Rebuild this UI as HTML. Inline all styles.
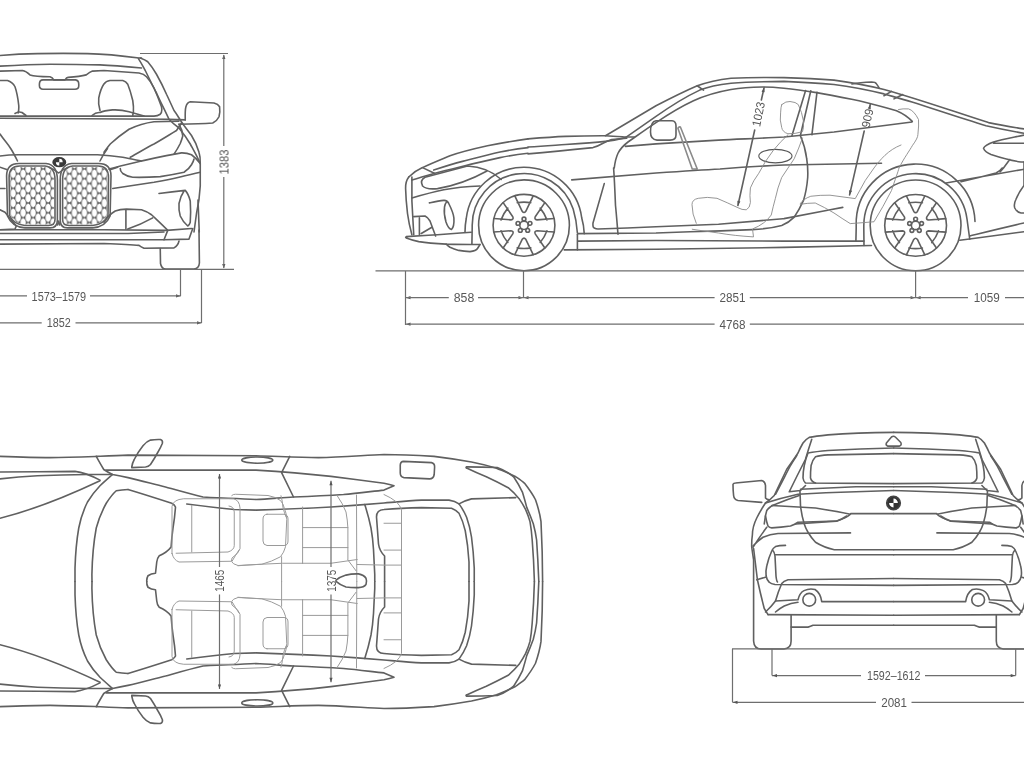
<!DOCTYPE html>
<html><head><meta charset="utf-8"><style>
html,body{margin:0;padding:0;background:#fff;}
svg{display:block;}
.wrap{filter:blur(0.6px);width:1024px;height:768px;}
.l{fill:none;stroke:#606060;stroke-width:1.6;stroke-linejoin:round;stroke-linecap:round;}
.d{fill:none;stroke:#6e6e6e;stroke-width:1.2;}
.t{font-family:"Liberation Sans",sans-serif;font-size:12.5px;fill:#555;opacity:0.99;}
.ar{fill:#555;}
</style></head><body><div class="wrap">
<svg width="1024" height="768" viewBox="0 0 1024 768">
<defs>
<g id="wh">
<circle r="45.4" class="l"/>
<circle r="30.9" class="l"/>
<circle r="4.2" class="l"/>
<g class="l">
<circle cx="0" cy="-6.3" r="1.9"/><circle cx="6" cy="-1.9" r="1.9"/><circle cx="3.7" cy="5.1" r="1.9"/><circle cx="-3.7" cy="5.1" r="1.9"/><circle cx="-6" cy="-1.9" r="1.9"/>
</g>
<g id="gap" class="l"><path d="M-9.2 -29.4 L-1.8 -14 Q0 -11.6 1.8 -14 L9.2 -29.4 M-6.8 -22.6 Q0 -23.8 6.8 -22.6"/></g>
<use href="#gap" transform="rotate(60)"/><use href="#gap" transform="rotate(120)"/><use href="#gap" transform="rotate(180)"/><use href="#gap" transform="rotate(240)"/><use href="#gap" transform="rotate(300)"/>
</g>
</defs>
<!-- SIDE -->
<g class="l">
<use href="#wh" x="524" y="225.3"/>
<use href="#wh" x="915.6" y="225.4"/>
<path d="M528 138.9 C545 137.5 555 136.8 565.5 136.4 C580 135.9 593 135.7 605.5 135.75 C613 136 620 136.6 625.5 137 L634.25 137"/>
<path d="M605.5 135.75 L656 105.75 C670 98.5 684 91.5 697.25 85.75 C709 81.6 720 79.6 731 78.25 C748 77.4 766 77.3 784 77.6 C801 78.2 818 79 834 80.1 C852 82.5 868 85.5 884 89.5 C920 99.5 955 112 988.5 122.6 C1000 125 1012 127 1024 128.9"/>
<path d="M528 147 C545 146 555 145.2 565.5 144.5 C580 143.5 593 142.6 605.5 141.4 C614 140.5 620 139 625.5 137.6 L656 116.4 C670 106.5 684 97.5 699.75 90.1 C710 86 720 84.5 731 83.25 C748 82 766 81.6 784 81.4 C801 82.3 818 83.3 834 84.5 C852 86.8 868 90 884 93.9 C893 96.5 902 99 912 102 C937 110 962 118.5 986 125.75 C999 128.7 1011 131 1024 133.25"/>
<path d="M528 153.9 C550 152 572 149.8 593 147.6 C597 146.5 600 145 603 143.25 C606 141.6 609 140.4 611.75 139.5 L626.75 138.25"/>
<path d="M697.25 85.75 L703.5 90.1 M884 95.75 L891.5 91.4 M894 98.9 L902.75 94.5"/>
<path d="M614.25 168 C615 162 616 157.5 618 153.25 C620.5 148.5 624 145 628 142 C638 135 647 128.5 656 122.6 C668 114.5 680 107 693.5 100.75 C706 95 718 91.8 731 89.5 C741 88 751 87.3 762.25 87 C770 86.9 777 87.5 784 88.25 C795 89.5 805 90.9 816.5 92.6 C831 95.2 845 98 859 100.75 C872 104 884 107 896.5 110.75 C903 113.5 908 117 912.25 121.4 C911 122.5 911.5 122 912 122 C886 125.5 860 128.8 834 132 C817 133.7 800 135.3 784 137 C762 138.3 740 139 718.5 140.1 C697 141.3 676 142.6 656 143.9 L625.5 146.4"/>
<path d="M656 120.75 L672 120.75 Q676 121 676 126 L676 135 Q676 140.1 670 140.1 L657 140.1 Q650.5 139.5 650.5 132 Q650.5 121.5 656 120.75 Z"/>
<path style="stroke:#8a8a8a" d="M677.9 128.25 L692.25 169 L697.25 169 L680.4 127 Q679 126.3 677.9 128.25"/>
<path d="M852 84 Q860 82.5 871.5 82 Q875.5 82 876.5 83.9 L879 87.6"/>
<path d="M805.6 90.5 L792 135.5 M810.8 90.7 L800.4 135.5 M817 92.2 L811.9 134.8"/>
<path d="M800.4 135.8 C803.5 143 805.8 151 806.7 158.75 C807.7 165 808 171 807.7 177.5 C807 186 805.5 194 803.5 200.4 C800.5 207 797.5 212.5 794.2 217.1 C790.5 221 786.5 223.5 781.7 225.4 C772 228 762 229.2 752.5 229.6 C732 230.5 712 231.2 690 231.7 L656 233 L578 233.6"/>
<path d="M571.75 179.9 C600 177.5 628 175.2 656 173 C678 171.5 700 170 720 169 C742 167.3 763 166 784 165 C816 164.2 848 163.6 881.5 163.25"/>
<path d="M604.25 183.6 L593 223 Q592.6 227.5 594.25 228 Q596 229 598 229 C617 228.4 637 227.5 656 226.75 C677 225.9 698 225.1 718.5 224.25 C740 222.5 762 220.5 784 218.6 C803 215 823 211 842.75 207.4"/>
<path d="M613.6 168 C614.5 180 615 193 615.5 205.5 C616.5 215 617.2 225 618 234.25"/>
<path d="M578 241.1 L656 240.5 L784 241.1 L864 241.1 M564.25 249.9 L656 249.25 L784 247.4 L871.5 245.5"/>
<path d="M577.4 234.25 L577.4 249.9"/>
<path d="M855.9 241.1 L856.2 228 L856.2 225.4 A59.4 59.4 0 0 1 975 221.5"/>
<path d="M864 245.5 L863.8 228 L863.8 225.4 A51.8 51.8 0 0 1 967 219 L969.75 239.25"/>
<path d="M969.75 236 C988 231.5 1006 227 1024 223 M959.75 240.25 C981 237.5 1002 234.5 1024 231.75"/>
<path d="M946 183 C970 179 997 174 1024 169.25 M961 181.75 C973 179 985 176 996 173 Q1000.5 171 1002.25 168"/>
<path d="M1024 185.5 Q1019 192 1016 199.25 Q1013.5 204 1014.75 208 Q1017 212.5 1021 213 L1024 213"/>
<path d="M1024 135.1 C1013 137.5 1002 139.5 993.5 142 Q985 145 983.5 148.25 Q985 152 991 154.5 C1000 157.5 1010 160.5 1021 162 L1024 162 M993.5 143.25 L1024 143.25 M1009.75 159.5 L1003.5 168 L1000 172"/>
<path d="M1024 162 L1024 185"/>
</g>
<g class="l" style="stroke:#8a8a8a;stroke-width:0.9">
<ellipse cx="775.4" cy="156.1" rx="16.6" ry="6.75" style="stroke:#555;stroke-width:1.1"/>
<path d="M781.7 104.6 Q786 101 790 101.5 Q796 102 798.3 104.6 Q802 112 803.5 121.25 Q804 128 802.5 131.7 Q795 134 787.9 133.75 Q782.5 132 781.7 127.5 Q779.5 120 780.6 112.9 Q780.8 107 781.7 104.6"/>
<path d="M787.9 134.8 Q780 142 773.3 150.4 Q765 161 758.75 173.3 Q753 181 750.4 187.9 Q749.5 196 750.4 202.5 Q750 208 746.25 209.8 Q742 210 737.9 207.7 Q727 202.5 717 198.3 Q707 196.5 698.3 198.3 Q692 199.5 692 204.6 Q692 214 696.25 223.3"/>
<path d="M802.5 137.9 Q799 148 794.2 158.75 Q788 168 781.7 177.5 Q777.5 188 775.4 198.3 Q773 207 771.25 215 Q765 224 752.5 229 L753.5 236.9 C740 236 730 235 718.5 233 C708 231.5 700 230.5 692.25 229.25"/>
<path d="M800.4 203.5 Q803 199 810.8 196.25 Q820 195 830 195.2 L855.25 198.6 Q860 190 865.25 180.5 L874 168 C880 160 888 150 901 145 M800.25 204.25 Q808 203 815.25 203 Q824 207 834 213 Q842 218.5 850.25 223.6 C858 223 866 222.5 874 221.75 Q883 207 891.5 190.5 C895 180 898 172 899 168 C904 158 910 150 912.25 145.75 Q918 138 917.9 134.5 Q919 125 918.5 119.5 Q914 110.5 908.5 108.9 Q903 108.5 898.5 109.5"/>
</g>
<g class="l">
<path d="M764.1 87.6 L761.35 100 M754.7 130 L737.9 205.5 M870.25 104.5 L869.7 107 M864.2 131 L849.6 194.9"/>
</g>
<g class="t" text-anchor="middle" style="font-size:12px">
<text transform="translate(762.5 115) rotate(-78)" textLength="25" lengthAdjust="spacingAndGlyphs">1023</text>
<text transform="translate(871.5 119) rotate(-78)" textLength="19" lengthAdjust="spacingAndGlyphs">909</text>
</g>
<g class="l">

<path d="M408.75 177 C413 173 417 170 422.5 167.6 C432 163 441 159.5 450 155.75 C462 151.5 475 148.5 487.5 145.75 C501 143 514 140.8 528 138.9"/>
<path d="M433.75 170.1 C443 167 452 164 462.5 161.4 C475 158.2 487 155 500 152 C509 150.2 518 148.8 528 147.6"/>
<path d="M422.5 167.6 L434.4 173.25"/>
<path d="M411.9 180.1 C419 177.8 427 175.5 435 173.25 C445 170.6 455 168.2 465 165.75 C476 163 488 160.3 500 157.6 C509 155.8 518 154.4 528 153.25"/>
<path d="M501.25 179.5 Q487.5 167 467.5 166 L425 177.3 Q419.5 180.5 422.6 186 Q426.25 189.8 437.5 188.6 Q462.5 184.5 487.5 170.75"/>
<path d="M408.75 177 C406.5 180 405.4 184 405.6 188.5 C405.8 197 406.5 205 407.5 213.5 C408.5 221 410 228 411.9 234.75"/>
<path d="M411.9 177 L411.9 201 L413.75 234.75"/>
<path d="M411.9 197.9 C422 195 433 192 443.75 189.75 C456 187.5 468 186.5 480 186"/>
<path d="M429.4 202.9 C434 202 439 201 443.75 200.4 C446 200.2 447.5 201.2 448.5 203 C451 208 453.5 213 453.9 218 C454.2 223 453.5 227.5 451.5 229.5 C449.5 229 447.5 226.5 446 222 C444.5 217 444 211 444.5 207 C445 204.5 445.5 203 446.5 202"/>
<path d="M413.75 216.6 L425 216 Q428 217.5 430 221 L435.6 236 M419.4 217.9 L419.4 234.75 M421.25 233.5 L431.9 227.25"/>
<path d="M406.25 236.6 Q405 237.3 406.25 237.9 M406.25 236.6 C416 236 427 235.4 437.5 234.75 C449 233.9 460 233 471.25 232.25 M406.25 237.9 C410 239.3 414 240.6 418.75 241.6 C428 243 437 243.6 446.25 244.1 C457 244.4 468 244.5 480 244.5"/>
<path d="M446.25 244.1 Q448 246 450 247.25 Q454 249 458.75 250.4 Q464 251.5 470 251.6 Q476 251 477.5 248.5 L480 244.5"/>
<path d="M465 232.25 C465 227 465.4 223 466.25 218.5 A58.2 58.2 0 0 1 581.75 218 Q583.8 225 584.25 233.6"/>
<path d="M471.9 244.1 L472.2 228 L472.2 225.3 A51.8 51.8 0 0 1 573.17 209 Q576.5 220 577.4 233"/>
</g>
<!-- FRONT -->
<defs>
<pattern id="mesh" patternUnits="userSpaceOnUse" x="13.2" y="173.75" width="10" height="9.75">
<rect x="0" y="0" width="10" height="9.75" fill="#505050"/>
<g fill="#fff" stroke="none">
<path id="hx" d="M0 -4.65 C3.7 -2.6 3.7 2.6 0 4.65 C-3.7 2.6 -3.7 -2.6 0 -4.65 Z"/>
<use href="#hx" x="10"/><use href="#hx" y="9.75"/><use href="#hx" x="10" y="9.75"/><use href="#hx" x="5" y="4.875"/>
</g>
</pattern>
<clipPath id="kclip"><path d="M10 178 Q10 166.9 20 166.9 L45 166.9 Q54 168 54 180 L54 219 Q54 224.5 48 224.5 L25 224.5 Q14 223.5 10.5 215 Z"/></clipPath>
<g id="kid">
<rect x="0" y="150" width="60" height="80" fill="url(#mesh)" clip-path="url(#kclip)" stroke="none"/>
<path class="l" d="M9.1 177.5 Q9.1 166 19.5 166 L45 166 Q55 167 55 180 L55 219.5 Q55 225.5 48.5 225.5 L25 225.5 Q13.5 224.5 9.6 215.5 Z"/>
<path class="l" d="M6.6 176 Q6.6 163.5 19 163.5 L46 163.5 Q52 164 55 169 Q57.4 173 57.4 180 L57.4 220 Q57.4 227.9 50 227.9 L25 227.9 Q12 227 7.5 216 Z"/>
</g>
</defs>
<use href="#kid"/>
<use href="#kid" transform="translate(117.6 0) scale(-1 1)"/>
<g class="l">
<path d="M49.4 167.6 Q55 170 58.7 173 Q62 170 68 167.6 M57.6 225 L58.7 221 L59.8 225"/>
<ellipse cx="59.3" cy="162.2" rx="6.2" ry="4.3" style="fill:#3a3a3a;stroke:#3a3a3a"/>
<path d="M59.3 158.8 A3.4 3.4 0 0 1 62.7 162.2 L59.3 162.2 Z M59.3 165.6 A3.4 3.4 0 0 1 55.9 162.2 L59.3 162.2 Z" style="fill:#fff;stroke:none"/>
<path d="M0 55.5 C12 54.5 25 53.8 37.5 53.6 C55 53.3 72 53.3 87.5 53.6 C104 54 120 55.5 139 58 L141.5 58"/>
<path d="M0 66.1 C17 65.2 33 64.5 50 64.25 C67 64.3 84 64.5 100 64.9 C110 65.3 122 66.2 141.5 68"/>
<path d="M0 71.1 L22.5 70.5 Q26 71 30 74.9 Q35 76.5 50 76.75 Q52.5 77.5 53.75 79.9 L65 79.9 Q66.5 77.6 68.1 77.4 Q80 76.5 86.25 74.9 Q90 72 92.5 71.1 L104 70.5 L139 73 Q144 74 146.5 76.75 Q150.5 81 154 88 Q158 97 161.5 106.75 Q162.5 112 160.25 114.25 Q157.5 116.1 154 116.1 L0 116.1"/>
<path d="M0 118.2 L169 119.25 L185.25 119.9"/>
<path d="M43 79.9 L75.5 79.9 Q78.75 80.5 78.75 84 L78.75 86 Q78.75 89.25 75 89.25 L43 89.25 Q39.4 89 39.4 85.5 L39.4 84 Q39.5 80 43 79.9 Z"/>
<path d="M0 80.5 L7.5 80.5 Q12.5 82 15 86.75 Q17.5 94 18.75 105.5 Q19 110 18.1 113"/>
<path d="M15 113.5 Q18.5 111 22 112.5 L26 115.5"/>
<path d="M100 110.5 Q98 104 98.75 98 Q100.5 89 103.75 84.25 Q106 81 110 80.5 L122.75 80.5 Q126 81.5 127.75 84.25 Q130.5 91 132.75 100.5 Q133.8 107 133.4 111.75 L132.75 115.5"/>
<path d="M92 115.5 Q96 112 100 112.5 Q104 110.5 112.5 109.9 Q121 109.5 129 111.75 L144 116.1"/>
<path d="M140.25 58 C143 59 145.5 60 147.75 61.75 C151 65.5 154 70 156.5 74.25 C160 80.5 163.5 87.5 166.5 94.25 C169 99.5 171.5 105 174 110.5 C176 113 177.5 115.5 179 118 C180.5 120.5 182.2 123 184 125.5 C186.5 128.8 189 132 191.5 135.5 C194 139.5 197 145 199 152.25 Q200.5 157 200.25 163.5 L200.25 186 Q199.5 200 196.5 213.5 L194 232"/>
<path d="M138.4 58.6 C141 62.5 143 66.5 145.25 70.5 C149 78 152.5 85.5 156.5 93 C160.5 102 165 110.5 169 119.25 C172 122.5 175.5 125.5 179 128 C183 133 187 138.5 190.25 144 C193.5 150 197 156 200.25 163.5"/>
<path d="M185.25 119.9 Q185 110 185.9 106.75 Q187 102.5 190.25 101.75 L214 103 Q218 104 219.6 106.75 Q220.3 112 219 116.75 Q217 121 212.75 123 Q200 124 179 124.25"/>
<path d="M0 134 C2 137 4 139.5 6 142 C8 144.5 9.5 146.5 11 149 C13.5 153 15.5 157 17.5 161"/>
<path d="M104 152.25 Q107 148 110.25 144 Q119 136 129 129.25 Q141 123.5 154 121.75 L179 121.1"/>
<path d="M100 161 C102 157 104.5 152.5 107.5 148.5"/>
<path d="M130.25 157.25 C139 152.5 146 148 154 144 C162 139.5 169 135 176.5 130.5 L181.5 123"/>
<path d="M174 154.1 C176.5 150.5 178.5 147 180.25 143.5 Q182 139 182.75 136 Q182.5 130 179 124.25"/>
<path d="M0 156 C6 155.2 12 154.8 18.75 154.75 L97.5 154.75 C108 155.5 116 156.4 122.75 157.25 C129 158.5 135 159.8 141.5 161"/>
<path d="M109 169.1 C120 166 131 163.5 141.5 161 C155 158 168 155 181.5 152.9 Q187 152.8 191.5 154.75 Q196 158 200.25 163.5"/>
<path d="M120.25 168.5 Q120 171 122.75 173.5 Q127 176.5 132.75 177.25 C142 177.5 151 177.2 160.25 176.6 C168 175.5 176 174 184 172.25 Q189 169 191.5 164.75 Q193.5 161.5 194 159"/>
<path d="M0 167.25 L7.5 169.75 M117.6 167.25 L110.1 169.75"/>
<path d="M0 188.5 L5 188.5 M112.75 188.5 C126 186.5 140 184.5 154 182.25 C162 180.8 170 179.3 179 177.25 C186 175.5 193 173.8 200.25 172.25"/>
<path d="M159 193.5 C168 192.3 176.5 191.3 185.25 190.4 Q188.5 194 190.25 201 Q191 212 190.25 222.25 Q189.5 225 187.75 226 Q183 222 180.25 216 Q178.5 210 179 203.5 Q180.5 196 184 191"/>
<path d="M104 222.25 Q108.5 215 115.25 211 Q120 209.3 126.5 209.1 L141.5 209.75 Q147 211.5 151.5 214.75 C157 220 162.5 225 167.75 230.4 L164 239.75"/>
<path d="M125.9 209.75 L125.9 229.1 M127.75 229.1 Q141 224.5 152.75 217.9"/>
<path d="M0 209.75 L5 212.25 L16.25 226 L15 229.1 L0 229.75"/>
<path d="M0 229.75 L104 229.75 L166.5 230.4 L191.5 228.5"/>
<path d="M0 233.5 L128 233.5 L164 232"/>
<path d="M0 239.75 L164 239.75 L189 239.1 L192.75 228.5"/>
<path d="M0 244.1 L104 243.5 Q130 244.5 139 245.4 Q141 247 144 248.25 L174 247.9 Q178 245.5 179 241"/>
<path d="M160.25 248.5 L160.5 263.5 Q161.5 269.1 166 269.1 L194 269.1 Q199 268.5 199.4 263 L199 230"/>
<path d="M199.25 232 L198 200"/>
</g>
<!-- TOP VIEW -->
<defs>
<g id="tophalf">
<g class="l">
<path d="M0 456.4 C17 457 34 457.6 50 457.6 C66 457.4 81 456.9 96.25 456.4 C107 455.9 117 455.4 128 455.1 L256 455.75 C277 456.3 298 457.6 318.5 457.6 C340 457.2 362 455.5 384 454.5 C400 454.5 418 455.4 434 456.4 C447 458 459 459.8 471.5 462 C480 463.7 488 465.6 496.5 468.25 C503 471 510 473.5 515.8 476.8 C519 479 522 481 524.6 483.3 C529 489 532.5 494 535.5 499.75 C538 507 540 514 541 521.6 C542 541 542.6 560 542.6 581.5"/>
<path d="M0 472 C25 471.8 50 471.6 75 471.4 C84 472.5 92 476 100 480.1"/>
<path d="M106.25 470.1 L256 470.1 C281 471.5 306 473.5 331 476.4 C349 478.6 366 481 384 483.25 Q390 484.5 394 485.75 Q390 487.5 384 490.1 C371 491.5 357 493.3 343.5 494.5 C327 495.5 310 496.3 293.5 497 C281 497.7 268 499 256 499.5 C247 499 237 498.6 228 498.25 C220 498 211 497.5 203 497 C190 494 178 490.5 165.5 487 C153 484 141 480.5 128 477.6 C123 476.5 118 475.5 112.5 474.5 C109 472.8 106 471 103.75 469.5 C101 465 98.5 460.5 96.25 456.4"/>
<path d="M0 478.9 C12 477.6 25 476.5 37.5 475.75 C54 475 71 474.6 87.5 474.5 L112.5 474.5"/>
<path d="M0 518.25 C25 512 55 502 100 480.75"/>
<path d="M112.5 474.5 C108 478.5 104 482 100 485.75 C95 491 91 496 87.5 502 C83.5 510 80.5 519 78.75 528 C76.5 541 75.4 555 75 568.25 L75 581.5"/>
<path d="M128 489.5 C124 489.6 120 490 116.25 490.75 C112 494.5 109 499 106.25 503.25 C102 511 98.5 519.5 96.25 528 C93.5 543 92.2 558 91.9 574.5 L92 581.5"/>
<path d="M128 489.5 C143 494 157 498.5 171.75 503.25 Q174.5 504.8 175.5 507 Q174.8 517 173 528 C172 535 171.5 541 171.1 547 Q167 552.5 159.25 555.75 Q157 558.5 156.75 562 L155.5 573.25 Q151 573.5 148 575.75 Q146.5 578.5 146.75 581.5"/>
<path d="M186.75 504 C203 506 218 507.8 234.25 509.5 L256 510.1 C281 509.3 306 508.3 331 507 C349 505.8 366 504.5 384 503 C396 502 409 500.8 421.5 500.1 L449 500.1 Q455 501 459 503.9 Q463.5 510 466.6 517.25 Q470 527 471.5 537 Q473.5 552 474.25 568 L474.25 581.5"/>
<path d="M384.6 581.5 L384.6 556 Q379.5 551 378.5 544 L376.5 517 Q376.5 509.8 384 509.5 C396 508.5 409 507.9 421.5 507.6 L451.5 508.25 Q456 510 459 513.25 Q463 521 465.25 530.75 Q468 545 469 562 L469 581.5"/>
<path d="M364.75 504.5 Q368.5 516 371 528 Q372.8 538 373.5 549.5 L374.75 574.5 L374.75 581.5"/>
<path d="M459 503.9 Q465 500.5 471.5 498.9 L515.8 497.6"/>
<path d="M466.6 466.9 C477 467 487 467.2 497.2 467.5 Q506 470.5 513.6 476.8 Q518.5 484 522.4 492.1 Q524.8 500 526.75 507.4 Q530.3 515.5 533.3 523.8 Q535.5 532 536.6 540 Q538 560 538.8 581.5"/>
<path d="M466.6 468 Q476 472.5 486.3 476.8 Q497.5 482 508.2 487.7 Q514.5 493 519.1 498.65 Q522.8 504 525.65 509.6 Q528.3 515.5 530 521.6 Q531.5 530 532.2 540 Q533.8 560 534.4 581.5"/>
<path d="M466.6 466.9 Q465.5 467.4 466.6 468"/>

<ellipse cx="257.3" cy="460.1" rx="15.5" ry="3.1"/>
<path d="M289.75 456.4 L281.6 472.6 L293.5 497"/>
<path d="M131.75 467 Q132.5 462.5 134.25 459.5 Q138 452 143 445.75 Q146.5 441.5 150.5 440.1 Q155 439.3 160.5 439.5 Q163 440.5 162.4 443.25 Q160.5 448 158 452 Q154.5 458.5 150.5 464.5 Q148.5 466.8 145.5 467 L131.75 467.6"/>
</g>
<g class="l" style="stroke:#9a9a9a;stroke-width:1">
<path d="M172 553.4 L172 506.5 Q173 499.5 183.75 498.75 L233.75 498.75 Q239.5 500.5 240 508 L240 548.75 Q239 553 232 558 L231.4 561.25 L179 562 Q173.5 560 172 553.4 Z"/>
<path d="M176.1 553.25 L228 552 Q234 550 234.25 545.75 L234.25 512 Q234 506.5 229 506 M191.75 505.5 L191.75 552"/>
<path d="M231.75 495.5 Q233 494.2 235.5 494.25 L268 495.5 Q276 497 280.5 500.5 Q283.5 504 284.25 508 Q286.5 513 286.75 519.25 L285.5 546.75 Q284 552.5 280.5 556.75 Q272 561.5 261.75 564.25 L238 565.5 Q232.5 564 231.75 561.75 Q235 556 239 550"/>
<path d="M267 514.25 L284 514.25 Q288 514.5 288 519 L288 541 Q288 545.5 284 545.5 L267 545.5 Q263 545 263 541 L263 519 Q263 514.5 267 514.25 Z"/>
<path d="M238 565.75 Q247 565 256 564.5 L282.25 563.25 L331 563.25 L357.25 559.5 M357.25 564.5 L384 565.1 L401.5 565.1"/>
<path d="M281.6 556.75 L281.6 581.5 M302.6 507 L302.6 563.5 M302.6 527.6 L347.9 527.6 M302.6 547.6 L347.9 547.6 M337.25 495.75 Q343 504 346 512 Q347.5 520 347.9 528 L347.9 559.5 M356.5 495 L356.8 581.5 M347.9 560 L356 570.75"/>
<path d="M281 495.75 Q282.5 501 282.9 507 Q284 512 286 517"/>
<path d="M384 523.25 L401.5 523.25 M384 550.1 L401.5 550.1 M384 494.5 Q391 497.5 396.5 502 Q400 505.5 401.5 509.5 L401.5 581.5"/>
</g>
</g>
</defs>
<use href="#tophalf"/>
<use href="#tophalf" transform="translate(0 1163) scale(1 -1)"/>
<g class="l">
<path d="M403.5 461.4 L431.5 462.6 Q434.8 463.3 434.6 467 L434.2 474.5 Q433.5 478.9 429.5 478.9 L404 477.6 Q400.3 477 400.25 473 L400.25 465 Q400.5 461.5 403.5 461.4 Z"/>
<path d="M336 580.1 Q340 577 346 575.1 Q352 573.6 358.5 573.9 Q364 575 366 578.25 Q367.2 581.5 366 584.5 Q364 587.3 358.5 587.6 Q352 587.8 346 587 Q340 585 336 581.4 Z"/>
</g>
<g class="d">
<path d="M219.5 474 V567 M219.5 594.5 V689 M331 480.8 V567 M331 594.5 V682.2"/>
</g>
<g class="t" text-anchor="middle">
<text transform="translate(224 580.75) rotate(-90)" textLength="22" lengthAdjust="spacingAndGlyphs">1465</text>
<text transform="translate(335.5 580.75) rotate(-90)" textLength="22" lengthAdjust="spacingAndGlyphs">1375</text>
</g>
<!-- REAR VIEW -->
<defs>
<g id="rearhalf" class="l">
<path d="M893.7 432.4 C872 432.6 850 433.2 828 434.9 C821 435.6 815 436.2 809.25 437.4 Q805.5 439.5 803 443 C801 446.5 799.5 449.5 798 453 C794.5 458.5 790.5 464 786.75 469.25 C782.5 478 778.5 487 774.25 495.5 Q770.5 499.5 765.5 503 Q760.5 510.5 756.75 518 Q752.5 526.5 752.4 534.75 Q751.5 541 751.75 547.25 Q752.5 553 753.6 559.75 L753.6 641 Q754 649 761 649 L784 649 Q791.1 648.5 791.1 641 L791.1 615"/>
<path d="M796.75 455.5 C794.5 459 792.5 462.5 790.5 465.5 C785.5 475 780.5 485 775.5 494.25"/>
<path d="M811.75 439.25 C809.5 446 807.5 452.5 805.5 459.25 C800 470 794.5 481 789.25 491.75 L800.5 490.5 L805.5 485.5"/>
<path d="M893.7 448 C872 448.5 850 449.3 828 450.5 Q816 451.5 808 453 Q805.5 459 804.25 465.5 Q803 472 803 478 Q803.5 481.5 805.5 483 L893.7 483.6"/>
<path d="M893.7 453.6 C872 454 850 454.5 828 454.9 Q820 455.5 815.5 456.75 Q812 460.5 811.1 465.5 Q810.4 472 810.5 478 Q811.5 481.8 815.5 483"/>
<path d="M800.5 489.25 L856 486.75 L893.7 486.75"/>
<path d="M765.5 503 Q781 498 798 494.25 C817 493 837 492.2 856 491.75 L893.7 490.5"/>
<path d="M764.25 524 Q765 516 766.75 510.5 Q770 506 775.5 504.25 Q787 499.5 799.25 495.5"/>
<path d="M799.9 490.5 Q800.3 498 800.5 505.5 Q801.5 515 804.25 524 Q805.5 528 808 532.25 Q811 537.5 815.5 542.25 Q824 547.5 834.25 549.75 L893.7 549.75"/>
<path d="M771.75 505.5 C786 506.3 801 507.1 815.5 508 C827 509.8 839 511.8 850.5 514.25 Q846 518 837 521.1 C823 522 809 523 795.5 524 M850.75 513.6 L893.7 513.6"/>
<path d="M765.5 516 Q766.5 522 768 526 Q769.5 527.8 771.75 527.9 Q781 527.3 790.5 526 Q795 524.5 798 522.25 L836.75 521 Q842.5 519 846.75 516"/>
<path d="M753 546 Q757.5 541 763 537.25 Q770 534.3 778 533.5 L850.5 532.9 M766.75 527.25 Q759.5 537 753 547.25"/>
<path d="M753.6 548.5 Q755.5 564 757.4 579.75 Q760.5 594 764.25 608.5 L768 614.6"/>
<path d="M785.5 545.4 Q779 545.5 775.5 546.6 Q772.5 548.5 771.75 551 Q768.5 558 766.75 566 Q765.5 571 766.1 576 Q767 580.5 769.25 582.25 Q771 584 775 584.5 L893.7 585.4"/>
<path d="M772.5 550 Q774.5 552 775 556 Q775.5 566 776 576 Q776.5 581 777.5 582"/>
<path d="M775.5 554.75 L893.7 554.75 M756.75 579.75 L765.5 577.25"/>
<path d="M893.7 578.5 L788 579.75 Q783.5 581 781.75 583.5 Q778 592 775.5 601 Q771 607 765.5 612"/>
<path d="M775.5 601 L798 599.75 Q799.5 593 804 590.6 Q809.5 588 815 589.5 Q820.5 593 821.75 601.6 L893.7 601.6"/>
<circle cx="809.25" cy="599.75" r="6.4"/>
<path d="M775.5 612 Q779.5 608.5 784.25 606 Q791 603 798 602.25"/>
<path d="M768 614.6 L893.7 615.25 M791.1 627.1 L808 627.1 Q810.5 626.5 813 625.25 L893.7 625.25"/>
<path d="M733 484.25 Q733.6 483 735.5 483 L761.75 480.5 Q765.2 481.5 765.5 485.5 L765.5 498 Q766.8 499.6 769.25 499.9 M761.75 502.4 C754 501.8 746 501.2 738 500.5 Q734 499.5 733.6 495.5 Q733 490 733 484.25"/>
</g>
</defs>
<use href="#rearhalf"/>
<use href="#rearhalf" transform="translate(1787.4 0) scale(-1 1)"/>
<g class="l">
<path d="M887.6 446.1 Q885.5 445 886.4 443 L891.5 437 Q893.5 435.5 895.3 437 L900.8 442.5 Q902 445 899.5 446.1 Z"/>
<circle cx="893.5" cy="503" r="6.8" style="fill:#333;stroke:#444"/>
<path d="M893.5 498.6 A4.4 4.4 0 0 1 897.9 503 L893.5 503 Z M893.5 507.4 A4.4 4.4 0 0 1 889.1 503 L893.5 503 Z" style="fill:#fff;stroke:none"/>
</g>
<g class="d">
<path d="M732 648.9 H1024 M732.5 648.9 V702.3 M772 649 V675.6 M1015.7 649 V675.6 M772 675.6 H861 M925 675.6 H1015.7 M732.5 702.3 H876 M911.5 702.3 H1024"/>
</g>
<g class="t" text-anchor="middle">
<text x="893.7" y="680.2" textLength="53.4" lengthAdjust="spacingAndGlyphs">1592–1612</text>
<text x="894.1" y="706.9" textLength="25.8" lengthAdjust="spacingAndGlyphs">2081</text>
</g>
<path class="ar" d="M223.80 54.50 L225.40 59.00 L222.20 59.00 Z M223.80 268.50 L222.20 264.00 L225.40 264.00 Z M180.50 295.90 L176.00 297.50 L176.00 294.30 Z M201.50 322.80 L197.00 324.40 L197.00 321.20 Z M406.00 297.70 L410.50 296.10 L410.50 299.30 Z M523.00 297.70 L518.50 299.30 L518.50 296.10 Z M524.00 297.70 L528.50 296.10 L528.50 299.30 Z M915.10 297.70 L910.60 299.30 L910.60 296.10 Z M916.10 297.70 L920.60 296.10 L920.60 299.30 Z M406.00 324.20 L410.50 322.60 L410.50 325.80 Z M764.10 87.60 L764.69 92.34 L761.56 91.65 Z M737.90 205.50 L737.31 200.76 L740.44 201.45 Z M870.25 104.50 L870.81 109.24 L867.69 108.53 Z M849.60 194.90 L849.04 190.16 L852.16 190.87 Z M219.50 474.00 L221.10 478.50 L217.90 478.50 Z M219.50 689.00 L217.90 684.50 L221.10 684.50 Z M331.00 480.80 L332.60 485.30 L329.40 485.30 Z M331.00 682.20 L329.40 677.70 L332.60 677.70 Z M772.50 675.60 L777.00 674.00 L777.00 677.20 Z M1015.20 675.60 L1010.70 677.20 L1010.70 674.00 Z M733.00 702.30 L737.50 700.70 L737.50 703.90 Z"/>
<!-- DIMENSIONS -->
<g class="d">
<!-- front view -->
<path d="M140 53.5H228 M223.8 55V146 M223.8 177V268 M0 269.4H234 M180.5 269.4V296.3 M201.5 269.4V323 M0 295.9H27 M90 295.9H180.5 M0 322.8H41.7 M75.5 322.8H201.5"/>
<!-- side view -->
<path d="M375.5 270.8H1024 M405.5 270.8V325 M523.5 270.8V298 M915.6 270.8V298 M405.5 297.7H448.8 M478 297.7H714.6 M749.8 297.7H968 M1005 297.7H1024 M405.5 324.2H714.6 M749.8 324.2H1024"/>
</g>
<g class="t" text-anchor="middle">
<text x="58.9" y="300.5" textLength="54.6" lengthAdjust="spacingAndGlyphs">1573–1579</text>
<text x="58.8" y="327.4" textLength="24" lengthAdjust="spacingAndGlyphs">1852</text>
<text x="464" y="302.3" textLength="20.5" lengthAdjust="spacingAndGlyphs">858</text>
<text x="732.5" y="302.3" textLength="26" lengthAdjust="spacingAndGlyphs">2851</text>
<text x="986.8" y="302.3" textLength="26" lengthAdjust="spacingAndGlyphs">1059</text>
<text x="732.5" y="328.8" textLength="26" lengthAdjust="spacingAndGlyphs">4768</text>
<text transform="translate(228.5 162) rotate(-90)" textLength="25" lengthAdjust="spacingAndGlyphs">1383</text>
</g>
</svg></div>
</body></html>
